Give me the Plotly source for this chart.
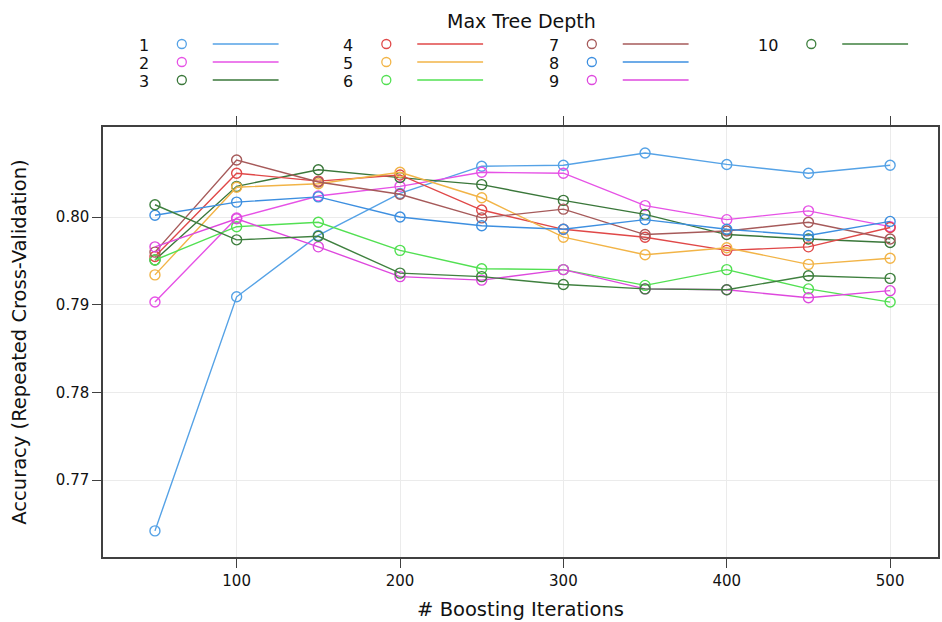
import plotly.graph_objects as go

iterations = [50, 100, 150, 200, 250, 300, 350, 400, 450, 500]
depths = ["1", "2", "3", "4", "5", "6", "7", "8", "9", "10"]

acc_d1 = [0.7642, 0.7909, 0.7979, 0.8027, 0.8058, 0.8059, 0.8073, 0.8060, 0.8050, 0.8059]
acc_d2 = [0.7903, 0.7999, 0.8024, 0.8035, 0.8051, 0.8050, 0.8013, 0.7997, 0.8007, 0.7989]
acc_d3 = [0.7951, 0.8035, 0.8054, 0.8045, 0.8037, 0.8019, 0.8003, 0.7980, 0.7975, 0.7971]
acc_d4 = [0.7955, 0.8050, 0.8041, 0.8048, 0.8008, 0.7986, 0.7977, 0.7962, 0.7966, 0.7988]
acc_d5 = [0.7934, 0.8034, 0.8038, 0.8051, 0.8022, 0.7977, 0.7957, 0.7965, 0.7946, 0.7953]
acc_d6 = [0.7951, 0.7989, 0.7994, 0.7962, 0.7941, 0.7940, 0.7922, 0.7940, 0.7918, 0.7903]
acc_d7 = [0.7960, 0.8065, 0.8040, 0.8026, 0.7999, 0.8009, 0.7980, 0.7984, 0.7994, 0.7975]
acc_d8 = [0.8002, 0.8017, 0.8023, 0.8000, 0.7990, 0.7986, 0.7997, 0.7986, 0.7979, 0.7995]
acc_d9 = [0.7966, 0.7998, 0.7966, 0.7932, 0.7928, 0.7940, 0.7918, 0.7917, 0.7908, 0.7916]
acc_d10 = [0.8014, 0.7974, 0.7978, 0.7936, 0.7932, 0.7923, 0.7918, 0.7917, 0.7933, 0.7930]

series = [acc_d1, acc_d2, acc_d3, acc_d4, acc_d5, acc_d6, acc_d7, acc_d8, acc_d9, acc_d10]
colors = ["#55a2e6", "#e652e6", "#3a773a", "#e04848", "#f2b447", "#52e052",
          "#a65a5a", "#3d8fe0", "#de48de", "#3f803f"]

x_ticks = [100, 200, 300, 400, 500]
y_ticks = [0.77, 0.78, 0.79, 0.80]

W, H = 942, 622
ML, MR, MT, MB = 103, 2, 127, 65
PW, PH = W - ML - MR, H - MT - MB

def px(x):
    return (x - ML) / PW

def py(y):
    return (H - MB - y) / PH

fig = go.Figure()
for name, vals, col in zip(depths, series, colors):
    fig.add_trace(go.Scatter(
        x=iterations, y=vals, name=name, mode="lines+markers",
        line=dict(color=col, width=1.4),
        marker=dict(symbol="circle-open", size=10, color=col, line=dict(width=1.4)),
        showlegend=False,
    ))

axis_col = "#404040"
fig.update_xaxes(
    range=[18.2, 529.3], tickvals=x_ticks, ticks="outside", ticklen=9,
    tickwidth=1.2, tickcolor=axis_col, showline=True, linecolor=axis_col,
    linewidth=1.5, mirror="ticks", showgrid=True, gridcolor="#ebebeb",
    gridwidth=1, zeroline=False,
    tickfont=dict(family="DejaVu Sans", size=15, color="#111"),
    title=dict(text="# Boosting Iterations", standoff=14,
               font=dict(family="DejaVu Sans", size=19.5, color="#111")),
)
fig.update_yaxes(
    range=[0.76122, 0.81027], tickvals=y_ticks, tickformat=".2f",
    ticks="outside", ticklen=9, tickwidth=1.2, tickcolor=axis_col,
    showline=True, linecolor=axis_col, linewidth=1.5, mirror=True,
    showgrid=True, gridcolor="#ebebeb", gridwidth=1, zeroline=False,
    tickfont=dict(family="DejaVu Sans", size=15, color="#111"),
    title=dict(text="Accuracy (Repeated Cross-Validation)", standoff=24,
               font=dict(family="DejaVu Sans", size=19.5, color="#111")),
)

# custom key (lattice style): label, point symbol, line segment
shapes = []
annotations = [dict(text="Max Tree Depth", x=px(523), y=py(21), xref="paper", yref="paper",
                    showarrow=False, xanchor="center", yanchor="middle",
                    font=dict(family="DejaVu Sans", size=19, color="#111"))]
col_circle_x = [182, 387, 593, 813]
row_y = [44, 62, 80]
for i, (name, col) in enumerate(zip(depths, colors)):
    c, r = divmod(i, 3)
    cx = col_circle_x[c]
    yy = row_y[r]
    annotations.append(dict(text=name, x=px(cx - 31), y=py(yy + 1), xref="paper", yref="paper",
                            showarrow=False, xanchor="right", yanchor="middle",
                            font=dict(family="DejaVu Sans", size=16, color="#111")))
    shapes.append(dict(type="circle", xref="paper", yref="paper",
                       xsizemode="pixel", ysizemode="pixel",
                       xanchor=px(cx), yanchor=py(yy), x0=-4.5, x1=4.5, y0=-4.5, y1=4.5,
                       line=dict(color=col, width=1.3)))
    shapes.append(dict(type="line", xref="paper", yref="paper",
                       x0=px(cx + 31), x1=px(cx + 97), y0=py(yy), y1=py(yy),
                       line=dict(color=col, width=1.5)))

fig.update_layout(
    width=W, height=H, margin=dict(l=ML, r=MR, t=MT, b=MB),
    paper_bgcolor="white", plot_bgcolor="white",
    shapes=shapes, annotations=annotations, showlegend=False,
)

fig.write_html("out.html")
